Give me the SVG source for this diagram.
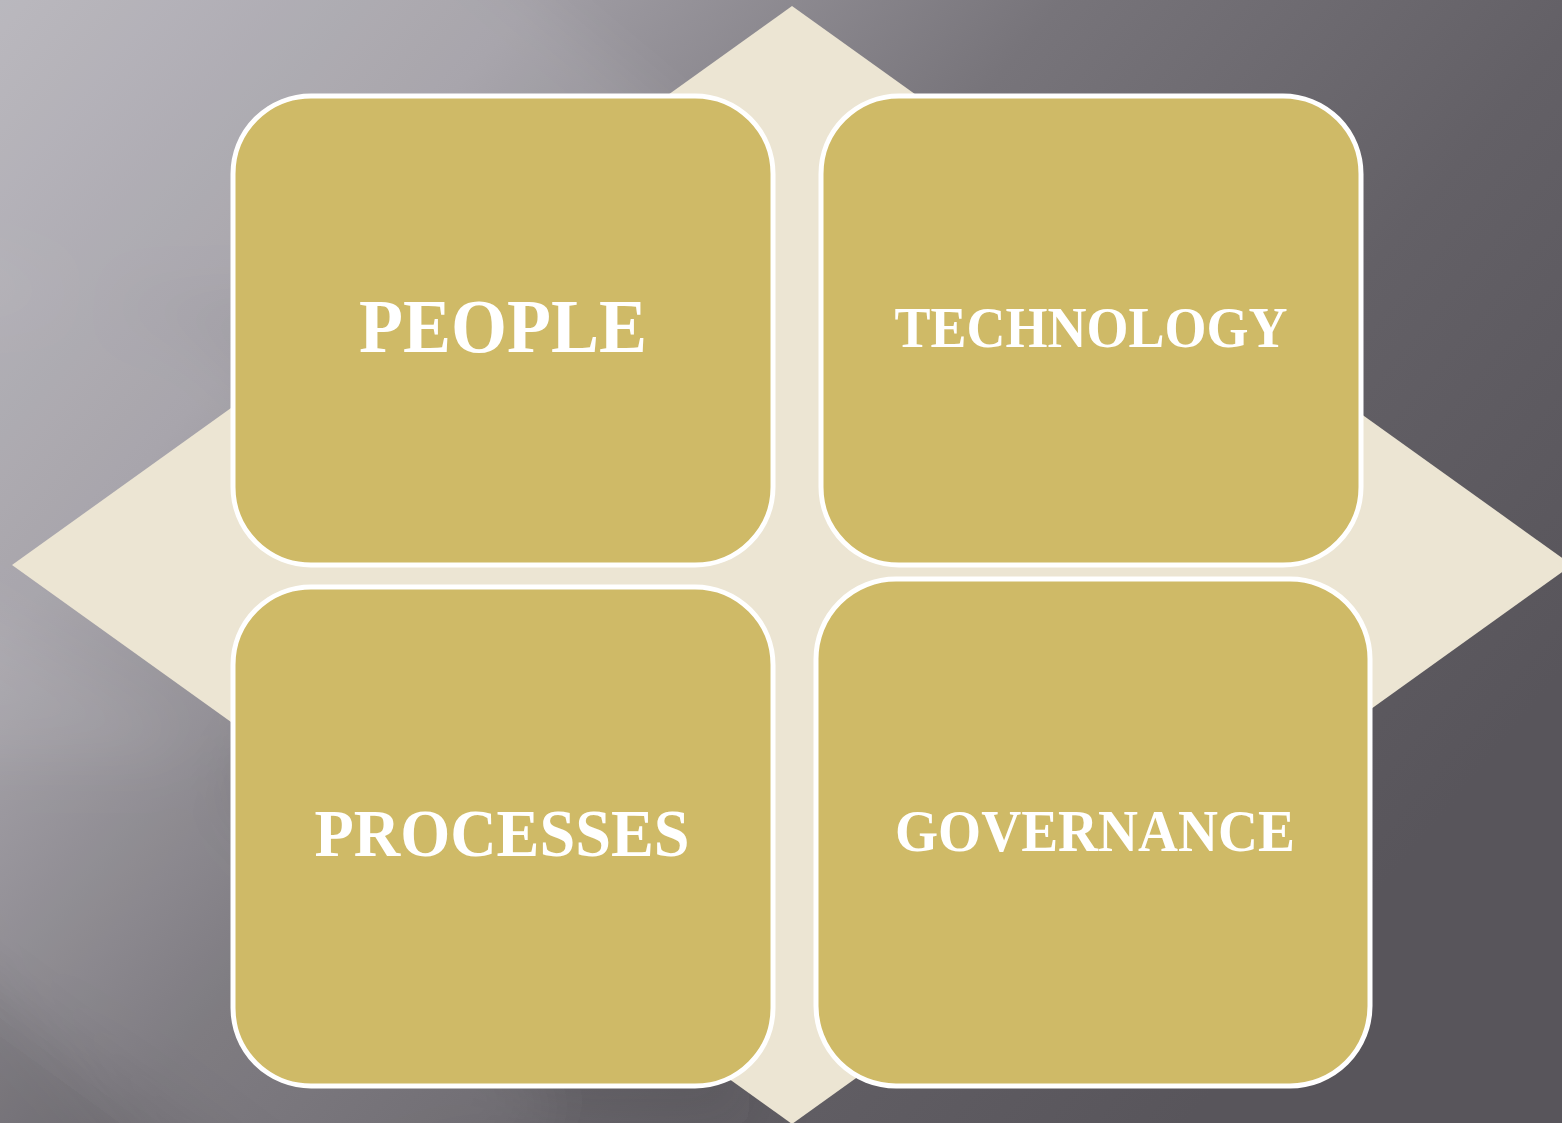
<svg xmlns="http://www.w3.org/2000/svg" width="1562" height="1123" viewBox="0 0 1562 1123">
<defs>
<linearGradient id="bg" x1="0" y1="0" x2="1" y2="0.6">
<stop offset="0" stop-color="#b4b2b9"/>
<stop offset="0.25" stop-color="#a19ea5"/>
<stop offset="0.5" stop-color="#77747a"/>
<stop offset="0.75" stop-color="#636066"/>
<stop offset="1" stop-color="#58555b"/>
</linearGradient>
<filter id="soft" x="-20%" y="-20%" width="140%" height="140%">
<feGaussianBlur stdDeviation="30"/>
</filter>
</defs>
<style>
.box{fill:#cfba67;stroke:#ffffff;stroke-width:5}
.lbl{font-family:"Liberation Serif","DejaVu Serif",serif;font-weight:bold;fill:#ffffff;text-anchor:middle}
</style>
<rect x="0" y="0" width="1562" height="1123" fill="url(#bg)"/>
<g filter="url(#soft)">
<polygon points="-100,-100 420,-100 900,300 -100,300" fill="#ffffff" opacity="0.08"/>
<polygon points="-100,250 200,330 650,760 -100,760" fill="#ffffff" opacity="0.08"/>
<polygon points="330,560 700,900 760,1123 560,1123 230,800" fill="#3a373d" opacity="0.12"/>
<polygon points="-100,560 160,720 560,1123 300,1200 -100,900" fill="#ffffff" opacity="0.06"/>
<polygon points="-100,880 200,1200 -100,1200" fill="#3a373d" opacity="0.12"/>
</g>
<polygon id="diamond" points="792,6 1572,565 792,1124 12,565" fill="#ece5d3"/>
<g id="connectors"></g>
<g id="people">
<rect class="box" x="233" y="96" width="540" height="469" rx="78" ry="78"/>
<text class="lbl" x="503" y="352" font-size="76" textLength="288" lengthAdjust="spacingAndGlyphs">PEOPLE</text>
</g>
<g id="technology">
<rect class="box" x="821" y="96" width="540" height="469" rx="78" ry="78"/>
<text class="lbl" x="1091" y="347" font-size="57" textLength="393" lengthAdjust="spacingAndGlyphs">TECHNOLOGY</text>
</g>
<g id="processes">
<rect class="box" x="233" y="587" width="540" height="499" rx="78" ry="78"/>
<text class="lbl" x="502" y="856" font-size="68" textLength="375" lengthAdjust="spacingAndGlyphs">PROCESSES</text>
</g>
<g id="governance">
<rect class="box" x="816" y="579" width="554" height="507" rx="80" ry="80"/>
<text class="lbl" x="1095" y="851" font-size="60" textLength="400" lengthAdjust="spacingAndGlyphs">GOVERNANCE</text>
</g>
</svg>
